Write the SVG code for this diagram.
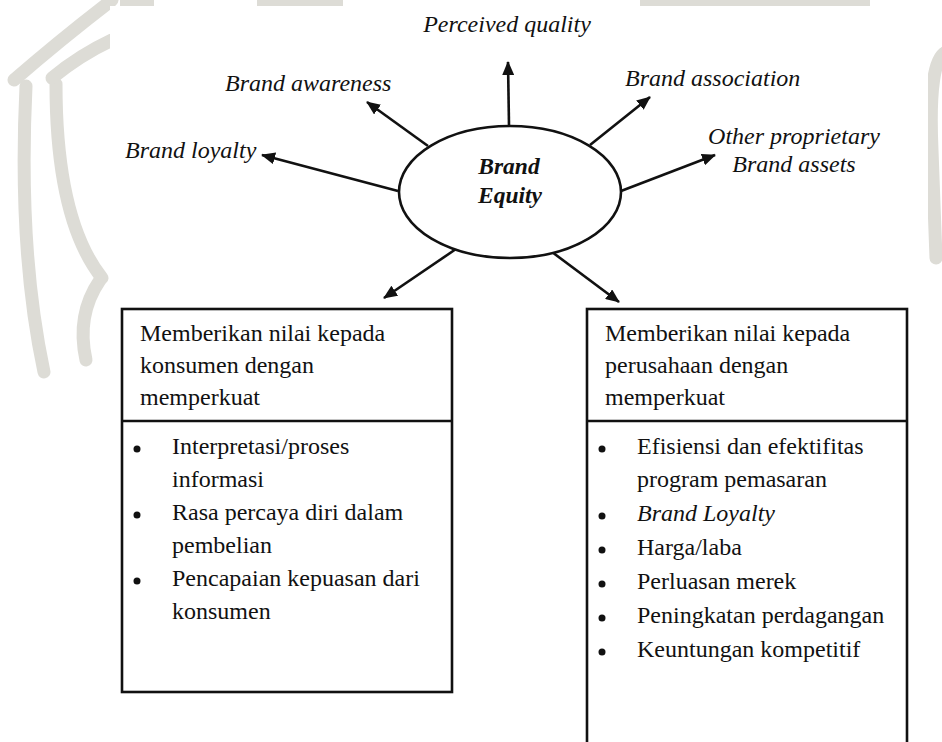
<svg xmlns="http://www.w3.org/2000/svg" width="942" height="742" viewBox="0 0 942 742">
  <defs>
    <style>
      .wm { fill: none; stroke: #dddcd6; stroke-width: 13; stroke-linecap: round; }
      .wmf { fill: #dddcd6; }
      .lbl { font-family: "Liberation Serif", "Times New Roman", serif; font-size: 24px; font-style: italic; fill: #111; }
      .core { font-family: "Liberation Serif", "Times New Roman", serif; font-size: 23.5px; font-style: italic; font-weight: bold; fill: #111; }
      .body { font-family: "Liberation Serif", "Times New Roman", serif; font-size: 24px; fill: #111; }
      .box { fill: none; stroke: #111; stroke-width: 2.6; }
      .conn { stroke: #111; stroke-width: 2.6; fill: none; marker-end: url(#arrow); }
      .bul { fill: #111; }
    </style>
    <marker id="arrow" markerUnits="userSpaceOnUse" markerWidth="14" markerHeight="12" refX="13" refY="6" orient="auto">
      <path d="M0,0 L14,6 L0,12 Z" fill="#111"/>
    </marker>
  </defs>

  <rect x="0" y="0" width="942" height="742" fill="#ffffff"/>

  <g id="watermark">
    <path class="wm" d="M 112 0 Q 60 40 14 80"/>
    <path class="wm" d="M 26 86 Q 18 250 44 372"/>
    <path class="wm" d="M 56 84 Q 56 220 102 278"/>
    <path class="wm" d="M 52 78 Q 80 55 112 40"/>
    <path class="wm" d="M 100 280 Q 76 315 86 360"/>
    <path class="wm" d="M 946 52 Q 928 60 932 150 L 936 258"/>
    <rect class="wmf" x="120" y="0" width="34" height="6"/>
    <rect class="wmf" x="257" y="0" width="86" height="6"/>
    <rect class="wmf" x="640" y="0" width="230" height="6"/>
  </g>
  <rect id="page" x="110" y="6" width="818" height="736" fill="#ffffff"/>

  <g id="connectors">
    <line class="conn" x1="509" y1="126" x2="508" y2="62"/>
    <line class="conn" x1="428" y1="146" x2="367" y2="102"/>
    <line class="conn" x1="398" y1="191" x2="262" y2="155"/>
    <line class="conn" x1="590" y1="145" x2="650" y2="97"/>
    <line class="conn" x1="621" y1="191" x2="715" y2="155"/>
    <line class="conn" x1="456" y1="249" x2="384" y2="298"/>
    <line class="conn" x1="552" y1="252" x2="619" y2="302"/>
  </g>

  <g id="brand-equity">
    <ellipse cx="510" cy="192" rx="111" ry="66" fill="#ffffff" stroke="#111" stroke-width="2.6"/>
    <text class="core" x="509" y="174" text-anchor="middle">Brand</text>
    <text class="core" x="510" y="203" text-anchor="middle">Equity</text>
  </g>

  <g id="perceived-quality">
    <text class="lbl" x="507" y="32" text-anchor="middle">Perceived quality</text>
  </g>
  <g id="brand-awareness">
    <text class="lbl" x="225" y="91">Brand awareness</text>
  </g>
  <g id="brand-association">
    <text class="lbl" x="625" y="86">Brand association</text>
  </g>
  <g id="brand-loyalty">
    <text class="lbl" x="125" y="158">Brand loyalty</text>
  </g>
  <g id="other-assets">
    <text class="lbl" x="794" y="144" text-anchor="middle">Other proprietary</text>
    <text class="lbl" x="794" y="172" text-anchor="middle">Brand assets</text>
  </g>

  <g id="box-konsumen">
    <rect class="box" x="122" y="309" width="330" height="383"/>
    <line class="box" x1="122" y1="421" x2="452" y2="421"/>
    <text class="body" x="140" y="341">Memberikan nilai kepada</text>
    <text class="body" x="140" y="373">konsumen dengan</text>
    <text class="body" x="140" y="405">memperkuat</text>
    <circle class="bul" cx="137" cy="449" r="3.5"/>
    <text class="body" x="172" y="454">Interpretasi/proses</text>
    <text class="body" x="172" y="487">informasi</text>
    <circle class="bul" cx="137" cy="515" r="3.5"/>
    <text class="body" x="172" y="520">Rasa percaya diri dalam</text>
    <text class="body" x="172" y="553">pembelian</text>
    <circle class="bul" cx="137" cy="581" r="3.5"/>
    <text class="body" x="172" y="586">Pencapaian kepuasan dari</text>
    <text class="body" x="172" y="619">konsumen</text>
  </g>

  <g id="box-perusahaan">
    <rect class="box" x="587" y="309" width="320" height="470"/>
    <line class="box" x1="587" y1="421" x2="907" y2="421"/>
    <text class="body" x="605" y="341">Memberikan nilai kepada</text>
    <text class="body" x="605" y="373">perusahaan dengan</text>
    <text class="body" x="605" y="405">memperkuat</text>
    <circle class="bul" cx="602" cy="449" r="3.5"/>
    <text class="body" x="637" y="454">Efisiensi dan efektifitas</text>
    <text class="body" x="637" y="487">program pemasaran</text>
    <circle class="bul" cx="602" cy="516" r="3.5"/>
    <text class="body" x="637" y="521" font-style="italic">Brand Loyalty</text>
    <circle class="bul" cx="602" cy="550" r="3.5"/>
    <text class="body" x="637" y="555">Harga/laba</text>
    <circle class="bul" cx="602" cy="584" r="3.5"/>
    <text class="body" x="637" y="589">Perluasan merek</text>
    <circle class="bul" cx="602" cy="618" r="3.5"/>
    <text class="body" x="637" y="623">Peningkatan perdagangan</text>
    <circle class="bul" cx="602" cy="652" r="3.5"/>
    <text class="body" x="637" y="657">Keuntungan kompetitif</text>
  </g>
</svg>
